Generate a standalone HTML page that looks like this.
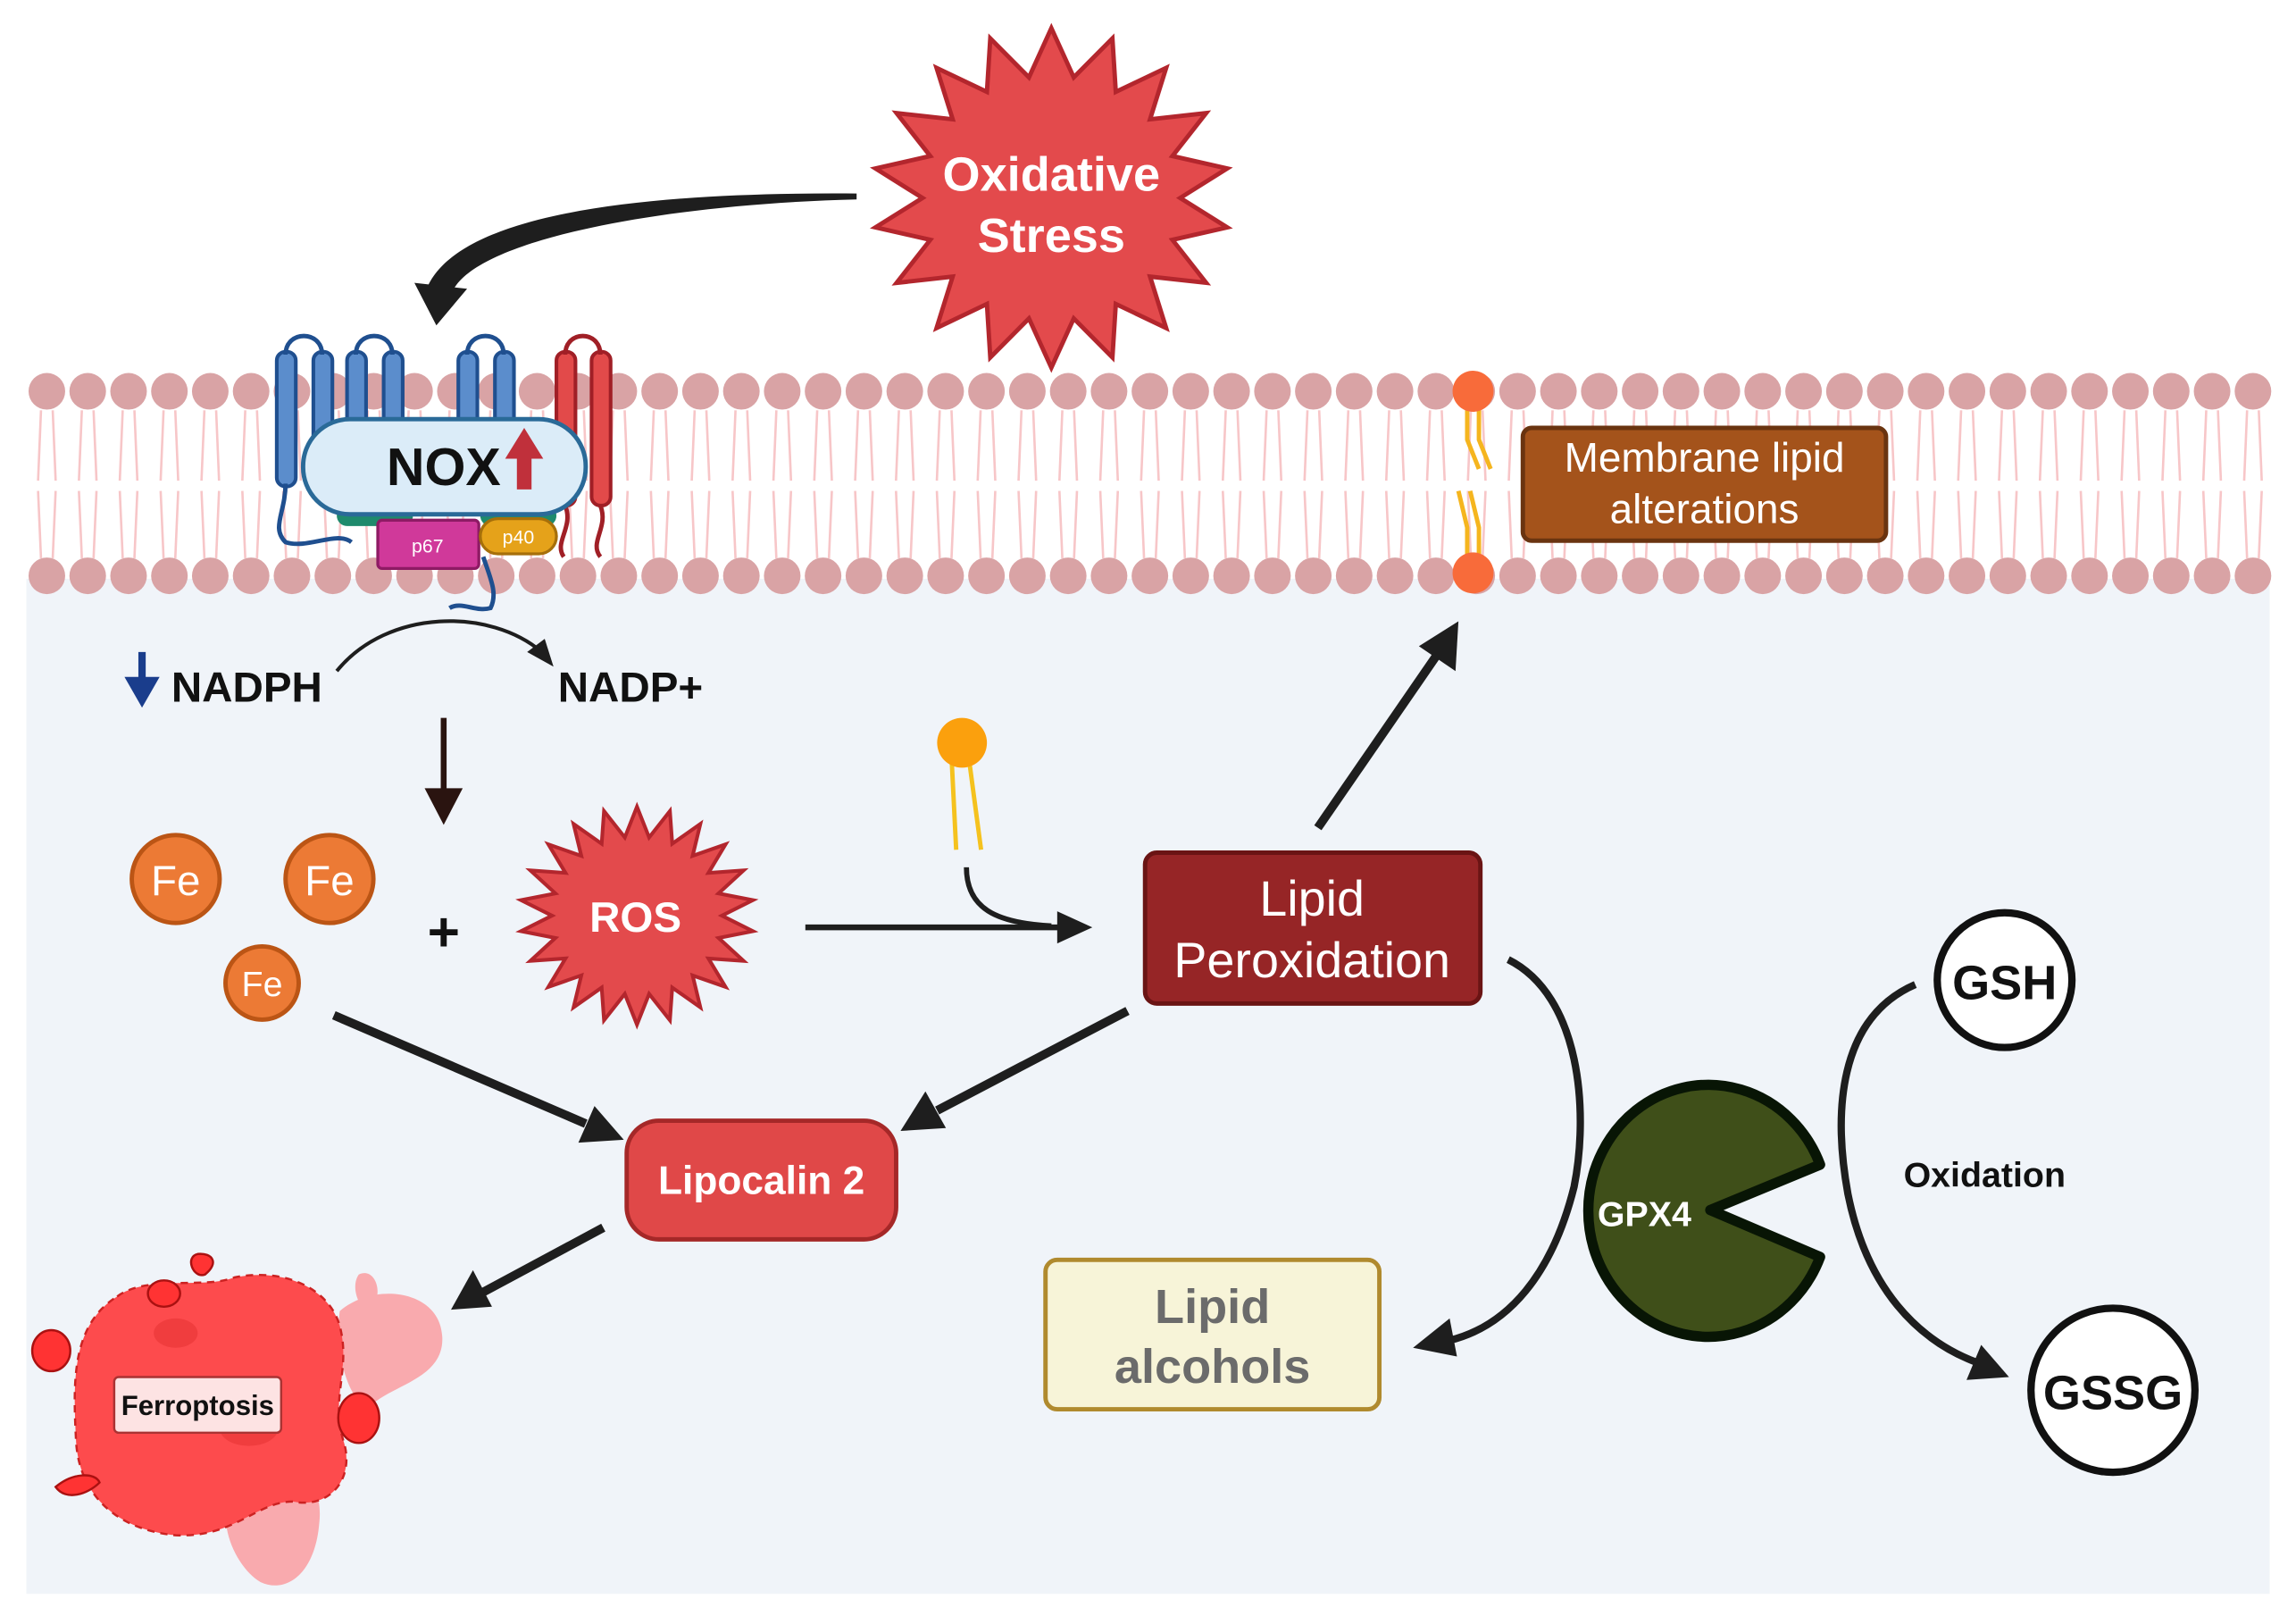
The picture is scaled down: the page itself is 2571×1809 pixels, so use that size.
<!DOCTYPE html>
<html><head><meta charset="utf-8">
<style>
html,body{margin:0;padding:0;background:#fff;}
svg{display:block;}
text{font-family:"Liberation Sans",Arial,sans-serif;}
</style></head>
<body>
<svg id="s" width="2571" height="1809" viewBox="0 0 1568 1103" xmlns="http://www.w3.org/2000/svg">
<rect x="0" y="0" width="1568" height="1103" fill="#fff"/>
<rect x="18" y="395" width="1532" height="693" fill="#f0f4f9"/>
<g id="mem"></g>

<!-- Oxidative stress star -->
<polygon id="star1" fill="#e34a4c" stroke="#b3262d" stroke-width="3"/>
<text x="718" y="130" font-size="33" font-weight="bold" fill="#fff" text-anchor="middle">Oxidative</text>
<text x="718" y="172" font-size="33" font-weight="bold" fill="#fff" text-anchor="middle">Stress</text>
<!-- curved tapered arrow -->
<path d="M585,132 C455,131 312,142 291,198 L309,199 C326,162 460,139 585,136 Z" fill="#1e1e1e"/>
<polygon points="283,193 319,197 298,222" fill="#1e1e1e"/>

<!-- NOX helices -->
<g fill="#5b8dcc" stroke="#1f4f8f" stroke-width="2.5">
<rect x="189" y="240" width="13" height="92" rx="6"/><rect x="214" y="240" width="13" height="92" rx="6"/>
<rect x="237" y="240" width="13" height="60" rx="6"/><rect x="262" y="240" width="13" height="60" rx="6"/>
<rect x="313" y="240" width="13" height="60" rx="6"/><rect x="338" y="240" width="13" height="60" rx="6"/>
</g>
<g fill="none" stroke="#1f4f8f" stroke-width="3">
<path d="M195,242 C195,225 220,225 220,242"/><path d="M243,242 C243,225 268,225 268,242"/><path d="M319,242 C319,225 344,225 344,242"/>
<path d="M195,330 C195,350 185,360 195,370 C210,375 230,362 240,370"/>
<path d="M330,380 C335,395 340,405 335,415 C325,418 315,410 307,415"/>
</g>
<g fill="#e24a4a" stroke="#a01f26" stroke-width="2.5">
<rect x="380" y="240" width="13" height="105" rx="6"/><rect x="404" y="240" width="13" height="105" rx="6"/>
</g>
<g fill="none" stroke="#a01f26" stroke-width="3">
<path d="M386,242 C386,225 410,225 410,242"/>
<path d="M386,345 C392,360 378,370 385,380"/><path d="M410,345 C416,360 402,370 410,380"/>
</g>
<rect x="230" y="345" width="52" height="14" rx="7" fill="#1e8a6c"/>
<rect x="328" y="345" width="52" height="14" rx="7" fill="#1e8a6c"/>
<rect x="207" y="286" width="193" height="65" rx="32" fill="#dbecf8" stroke="#2a6a98" stroke-width="3"/>
<text x="303" y="331" font-size="36" font-weight="bold" fill="#111" text-anchor="middle">NOX</text>
<polygon points="358,292 371,313 363,313 363,334 353,334 353,313 345,313" fill="#c0303b"/>
<rect x="258" y="355" width="69" height="33" rx="3" fill="#d0399a" stroke="#8e1a64" stroke-width="2"/>
<text x="292" y="377" font-size="13" fill="#fff" text-anchor="middle">p67</text>
<rect x="328" y="354" width="52" height="24" rx="12" fill="#e5a21a" stroke="#a66f0a" stroke-width="2"/>
<text x="354" y="371" font-size="13" fill="#fff" text-anchor="middle">p40</text>

<!-- membrane lipid alterations -->
<g stroke="#f5b51e" stroke-width="3" fill="none">
<path d="M1002,278 L1002,300 L1010,320"/><path d="M1010,278 L1010,300 L1018,320"/>
<path d="M1002,380 L1002,360 L996,335"/><path d="M1010,380 L1010,360 L1004,335"/>
</g>
<circle cx="1006" cy="267" r="14" fill="#f86b3a"/>
<circle cx="1006" cy="391" r="14" fill="#f86b3a"/>
<rect x="1040" y="292" width="248" height="77" rx="6" fill="#a4531b" stroke="#6a3410" stroke-width="3"/>
<text x="1164" y="322" font-size="28" fill="#fff" text-anchor="middle">Membrane lipid</text>
<text x="1164" y="357" font-size="28" fill="#fff" text-anchor="middle">alterations</text>

<!-- NADPH -->
<line x1="97" y1="445" x2="97" y2="465" stroke="#1a3d8c" stroke-width="5"/>
<polygon points="85,462 109,462 97,483" fill="#1a3d8c"/>
<text x="117" y="479" font-size="29" font-weight="bold" fill="#111">NADPH</text>
<text x="381" y="479" font-size="29" font-weight="bold" fill="#111">NADP+</text>
<path d="M230,458 C265,415 335,415 370,445" fill="none" stroke="#1e1e1e" stroke-width="2.5"/>
<polygon points="378,455 360,445 372,436" fill="#1e1e1e"/>
<line x1="303" y1="490" x2="303" y2="540" stroke="#2a1410" stroke-width="4"/>
<polygon points="290,538 316,538 303,563" fill="#2a1410"/>

<!-- Fe -->
<g fill="#ec7a35" stroke="#bb5515" stroke-width="3">
<circle cx="120" cy="600" r="30"/><circle cx="225" cy="600" r="30"/><circle cx="179" cy="671" r="25"/>
</g>
<g fill="#fff" text-anchor="middle">
<text x="120" y="611" font-size="29">Fe</text><text x="225" y="611" font-size="29">Fe</text><text x="179" y="680" font-size="24">Fe</text>
</g>
<text x="303" y="649" font-size="38" font-weight="bold" fill="#111" text-anchor="middle">+</text>

<!-- ROS star -->
<polygon id="star2" fill="#e34a4c" stroke="#b3262d" stroke-width="2.5"/>
<text x="434" y="636" font-size="29" font-weight="bold" fill="#fff" text-anchor="middle">ROS</text>

<!-- lipid + arrow to LP -->
<line x1="650" y1="520" x2="653" y2="580" stroke="#f5c21e" stroke-width="3"/>
<line x1="662" y1="520" x2="670" y2="580" stroke="#f5c21e" stroke-width="3"/>
<circle cx="657" cy="507" r="17" fill="#fba00d"/>
<line x1="550" y1="633" x2="725" y2="633" stroke="#1e1e1e" stroke-width="4"/>
<polygon points="722,622 746,633 722,644" fill="#1e1e1e"/>
<path d="M660,592 C660,620 680,630 718,632" fill="none" stroke="#1e1e1e" stroke-width="3.5"/>

<!-- Lipid peroxidation -->
<rect x="782" y="582" width="229" height="103" rx="8" fill="#962526" stroke="#6a1414" stroke-width="3"/>
<text x="896" y="625" font-size="34" fill="#fff" text-anchor="middle">Lipid</text>
<text x="896" y="667" font-size="34" fill="#fff" text-anchor="middle">Peroxidation</text>
<line x1="900" y1="565" x2="982" y2="446" stroke="#1e1e1e" stroke-width="6"/>
<polygon points="996,424 994,458 969,441" fill="#1e1e1e"/>

<!-- arrows to lipocalin -->
<line x1="770" y1="690" x2="640" y2="758" stroke="#1e1e1e" stroke-width="6"/>
<polygon points="615,772 632,745 646,770" fill="#1e1e1e"/>
<line x1="228" y1="693" x2="400" y2="767" stroke="#1e1e1e" stroke-width="6"/>
<polygon points="426,778 395,780 406,755" fill="#1e1e1e"/>
<rect x="428" y="765" width="184" height="81" rx="22" fill="#e04848" stroke="#a52828" stroke-width="3"/>
<text x="520" y="815" font-size="27" font-weight="bold" fill="#fff" text-anchor="middle">Lipocalin 2</text>
<line x1="412" y1="838" x2="330" y2="882" stroke="#1e1e1e" stroke-width="6"/>
<polygon points="308,894 323,867 336,892" fill="#1e1e1e"/>

<!-- Ferroptosis blob -->
<g>
<path d="M232,895 C255,875 300,880 302,912 C304,940 270,945 255,958 C240,965 228,925 232,895 Z" fill="#f9aaae"/>
<path d="M245,870 C255,865 262,880 255,892 C248,900 238,880 245,870 Z" fill="#f9aaae"/>
<path d="M165,1010 C195,995 222,1005 218,1040 C215,1075 195,1088 178,1080 C160,1070 142,1030 165,1010 Z" fill="#f9aaae"/>
<path d="M80,885 C100,870 140,880 160,872 C195,865 225,880 232,905 C240,935 225,955 235,985 C242,1010 225,1030 200,1025 C175,1025 160,1050 120,1048 C85,1045 55,1025 52,985 C50,945 48,905 80,885 Z" fill="#fd4b4d" stroke="#c22" stroke-width="1.5" stroke-dasharray="5,4"/>
<ellipse cx="120" cy="910" rx="15" ry="10" fill="#e83436" opacity=".6"/>
<ellipse cx="170" cy="975" rx="20" ry="12" fill="#e83436" opacity=".6"/>
<path d="M135,856 C145,855 150,862 140,870 C132,873 126,858 135,856 Z" fill="#f33" stroke="#a11" stroke-width="1.5"/>
<ellipse cx="112" cy="883" rx="11" ry="9" fill="#f33" stroke="#a11" stroke-width="1.5"/>
<ellipse cx="35" cy="922" rx="13" ry="14" fill="#f33" stroke="#a11" stroke-width="1.5"/>
<ellipse cx="245" cy="968" rx="14" ry="17" fill="#f33" stroke="#a11" stroke-width="1.5"/>
<path d="M38,1015 C50,1005 65,1005 68,1012 C60,1020 45,1025 38,1015 Z" fill="#f33" stroke="#a11" stroke-width="1.5"/>
<rect x="78" y="940" width="114" height="38" rx="3" fill="#fde3e3" stroke="#a33" stroke-width="1.5"/>
<text x="135" y="966" font-size="19" font-weight="bold" fill="#111" text-anchor="middle">Ferroptosis</text>
</g>

<!-- Lipid alcohols -->
<rect x="714" y="860" width="228" height="102" rx="8" fill="#f7f4d8" stroke="#b08a2e" stroke-width="3"/>
<text x="828" y="903" font-size="33" font-weight="bold" fill="#6b6b6b" text-anchor="middle">Lipid</text>
<text x="828" y="944" font-size="33" font-weight="bold" fill="#6b6b6b" text-anchor="middle">alcohols</text>
<path d="M1030,655 C1080,680 1085,760 1075,810 C1060,870 1030,905 990,915" fill="none" stroke="#1e1e1e" stroke-width="5"/>
<polygon points="965,920 990,900 995,926" fill="#1e1e1e"/>

<!-- GPX4 -->
<path d="M1243,795 A82,86 0 1 0 1243,858 L1168,826 Z" fill="#3f4f19" stroke="#081505" stroke-width="7" stroke-linejoin="round"/>
<text x="1123" y="837" font-size="24" font-weight="bold" fill="#fff" text-anchor="middle">GPX4</text>

<circle cx="1369" cy="669" r="46" fill="#fff" stroke="#111" stroke-width="5"/>
<text x="1369" y="682" font-size="33" font-weight="bold" fill="#111" text-anchor="middle">GSH</text>
<circle cx="1443" cy="949" r="56" fill="#fff" stroke="#111" stroke-width="5"/>
<text x="1443" y="962" font-size="33" font-weight="bold" fill="#111" text-anchor="middle">GSSG</text>
<path d="M1308,672 C1255,695 1252,760 1262,815 C1275,880 1310,915 1350,930" fill="none" stroke="#1e1e1e" stroke-width="5"/>
<polygon points="1372,940 1343,942 1353,918" fill="#1e1e1e"/>
<text x="1300" y="810" font-size="24" font-weight="bold" fill="#111">Oxidation</text>
</svg>
<script>
(function(){
var g=document.getElementById('mem'),h='';
for(var x=32;x<1550;x+=27.9){
 h+='<path d="M'+(x-4)+',280 L'+(x-6)+',328 M'+(x+4)+',280 L'+(x+6)+',328 M'+(x-6)+',335 L'+(x-4)+',381 M'+(x+6)+',335 L'+(x+4)+',381" stroke="#f7c6c8" stroke-width="1.6" fill="none"/>';
}
for(var x=32;x<1550;x+=27.9){
 h+='<circle cx="'+x+'" cy="267" r="12.5" fill="#d9a3a5"/><circle cx="'+x+'" cy="393" r="12.5" fill="#d9a3a5"/>';
}
g.innerHTML=h;
function star(id,cx,cy,ro,ri,n,sy){
 var p=[];for(var i=0;i<2*n;i++){var a=Math.PI*i/n-Math.PI/2,r=i%2?ri:ro;p.push((cx+r*Math.cos(a)).toFixed(1)+','+(cy+r*Math.sin(a)*sy).toFixed(1));}
 document.getElementById(id).setAttribute('points',p.join(' '));
}
star('star1',718,135,122,88,18,0.95);
star('star2',435,625,80,58,22,0.93);
})();
</script>
</body></html>
